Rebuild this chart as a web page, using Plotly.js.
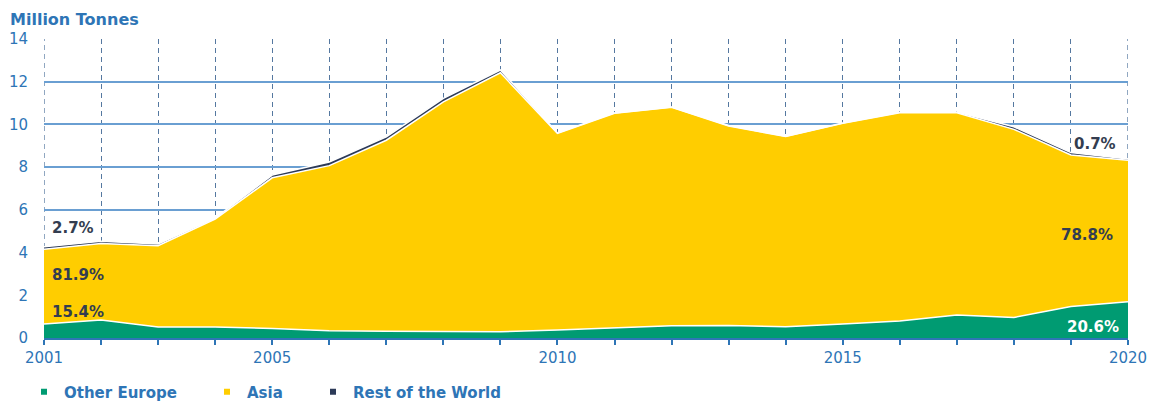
<!DOCTYPE html>
<html>
<head>
<meta charset="utf-8">
<script src="https://cdn.plot.ly/plotly-3.0.1.min.js"></script>
<style>
html,body{margin:0;padding:0;background:#fff;}
#chart{width:1150px;height:401px;}
</style>
</head>
<body>
<div id="chart"></div>
<script>
var years = [2001,2002,2003,2004,2005,2006,2007,2008,2009,2010,2011,2012,2013,2014,2015,2016,2017,2018,2019,2020];
var otherEurope = [0.66,0.84,0.52,0.52,0.45,0.34,0.32,0.31,0.29,0.37,0.48,0.57,0.58,0.53,0.65,0.80,1.08,0.96,1.48,1.70];
var asia = [3.50,3.59,3.80,5.05,7.05,7.73,8.94,10.75,12.13,9.21,10.04,10.23,9.35,8.90,9.40,9.75,9.47,8.81,7.09,6.62];
var restOfWorld = [0.11,0.10,0.08,0.04,0.13,0.17,0.16,0.16,0.13,0.02,0.02,0.02,0.02,0.02,0.02,0.02,0.03,0.12,0.11,0.06];
var seriesNames = ['Other Europe','Asia','Rest of the World'];
var xTickLabels = ['2001','','','','2005','','','','','2010','','','','','2015','','','','','2020'];
var yTickVals = [0,2,4,6,8,10,12,14];
var shareLabels2001 = ['15.4%','81.9%','2.7%'];
var shareLabels2020 = ['20.6%','78.8%','0.7%'];

var cGreen = '#009b72', cYellow = '#ffcd00', cNavy = '#2c3a58';
var blue = '#2e75b6', dark = '#333d50';
var vGrid = '#5578a0';
var fontFam = 'DejaVu Sans, sans-serif';

function areaTrace(name, y, color){
  return {x: years, y: y, name: name, type: 'scatter', mode: 'lines',
    stackgroup: 'one', fillcolor: color,
    line: {color: '#ffffff', width: 1.5, shape: 'linear'},
    showlegend: false, hoverinfo: 'x+y+name'};
}
function legendTrace(name, color, lg){
  return {x: [null], y: [null], name: name, type: 'scatter', mode: 'markers',
    marker: {symbol: 'square', size: 6, color: color}, legend: lg, showlegend: true};
}

var data = [
  areaTrace(seriesNames[0], otherEurope, cGreen),
  areaTrace(seriesNames[1], asia, cYellow),
  areaTrace(seriesNames[2], restOfWorld, cNavy),
  legendTrace(seriesNames[0], cGreen, 'legend'),
  legendTrace(seriesNames[1], cYellow, 'legend2'),
  legendTrace(seriesNames[2], cNavy, 'legend3')
];

var legFont = {family: fontFam, size: 15, color: blue, weight: 'bold'};
function leg(xpx){
  return {orientation: 'h', xref: 'container', yref: 'container',
    x: xpx/1150, xanchor: 'left', y: 1 - 392/401, yanchor: 'middle',
    font: legFont, bgcolor: 'rgba(0,0,0,0)', borderwidth: 0};
}

var annFont = {family: fontFam, size: 15, color: dark, weight: 'bold'};
var annotations = [
  {x: 2001.1, y: 1.22, xref: 'x', yref: 'y', text: shareLabels2001[0], showarrow: false, xanchor: 'left', yanchor: 'middle', font: annFont},
  {x: 2001.1, y: 2.95, xref: 'x', yref: 'y', text: shareLabels2001[1], showarrow: false, xanchor: 'left', yanchor: 'middle', font: annFont},
  {x: 2001.1, y: 5.15, xref: 'x', yref: 'y', text: shareLabels2001[2], showarrow: false, xanchor: 'left', yanchor: 'middle', font: annFont},
  {x: 2019.87, y: 0.51, xref: 'x', yref: 'y', text: shareLabels2020[0], showarrow: false, xanchor: 'right', yanchor: 'middle', font: {family: fontFam, size: 15, color: '#ffffff', weight: 'bold'}},
  {x: 2019.77, y: 4.82, xref: 'x', yref: 'y', text: shareLabels2020[1], showarrow: false, xanchor: 'right', yanchor: 'middle', font: annFont},
  {x: 2019.82, y: 9.08, xref: 'x', yref: 'y', text: shareLabels2020[2], showarrow: false, xanchor: 'right', yanchor: 'middle', font: annFont}
];

// dashed gridlines at the two range edges (Plotly omits grid at the edges)
var edgeYears = [years[0], years[years.length - 1]];
var shapes = edgeYears.map(function(yr){
  return {type: 'line', xref: 'x', yref: 'paper', x0: yr, x1: yr, y0: 0, y1: 1,
    layer: 'below', line: {color: vGrid, width: 1.3, dash: '5px,4px'}};
});

var layout = {
  width: 1150, height: 401,
  margin: {l: 44, r: 22, t: 39, b: 63, pad: 0},
  paper_bgcolor: '#ffffff', plot_bgcolor: '#ffffff',
  font: {family: fontFam, size: 15, color: blue},
  title: {text: 'Million Tonnes', xref: 'container', yref: 'container',
    x: 10/1150, xanchor: 'left', y: 1 - 19/401, yanchor: 'middle',
    font: {family: fontFam, size: 16, color: blue, weight: 'bold'}},
  xaxis: {range: [2001, 2020], tickmode: 'array', tickvals: years, ticktext: xTickLabels,
    showgrid: true, gridcolor: vGrid, griddash: '5px,4px', gridwidth: 1.3,
    showline: true, linecolor: blue, linewidth: 2,
    ticks: 'outside', ticklen: 5, tickcolor: blue, tickwidth: 1.5,
    tickfont: {family: fontFam, size: 15, color: blue},
    zeroline: false, fixedrange: true},
  yaxis: {range: [0, 14], tickmode: 'array', tickvals: yTickVals,
    showgrid: true, gridcolor: '#6a9fd2', gridwidth: 1.5,
    showline: false, zeroline: false, ticks: '', ticklabelstandoff: 15,
    tickfont: {family: fontFam, size: 15, color: blue}, fixedrange: true},
  legend: leg(24), legend2: leg(207), legend3: leg(313),
  shapes: shapes,
  annotations: annotations,
  hovermode: 'x unified'
};

Plotly.newPlot('chart', data, layout, {displayModeBar: false});
</script>
</body>
</html>
